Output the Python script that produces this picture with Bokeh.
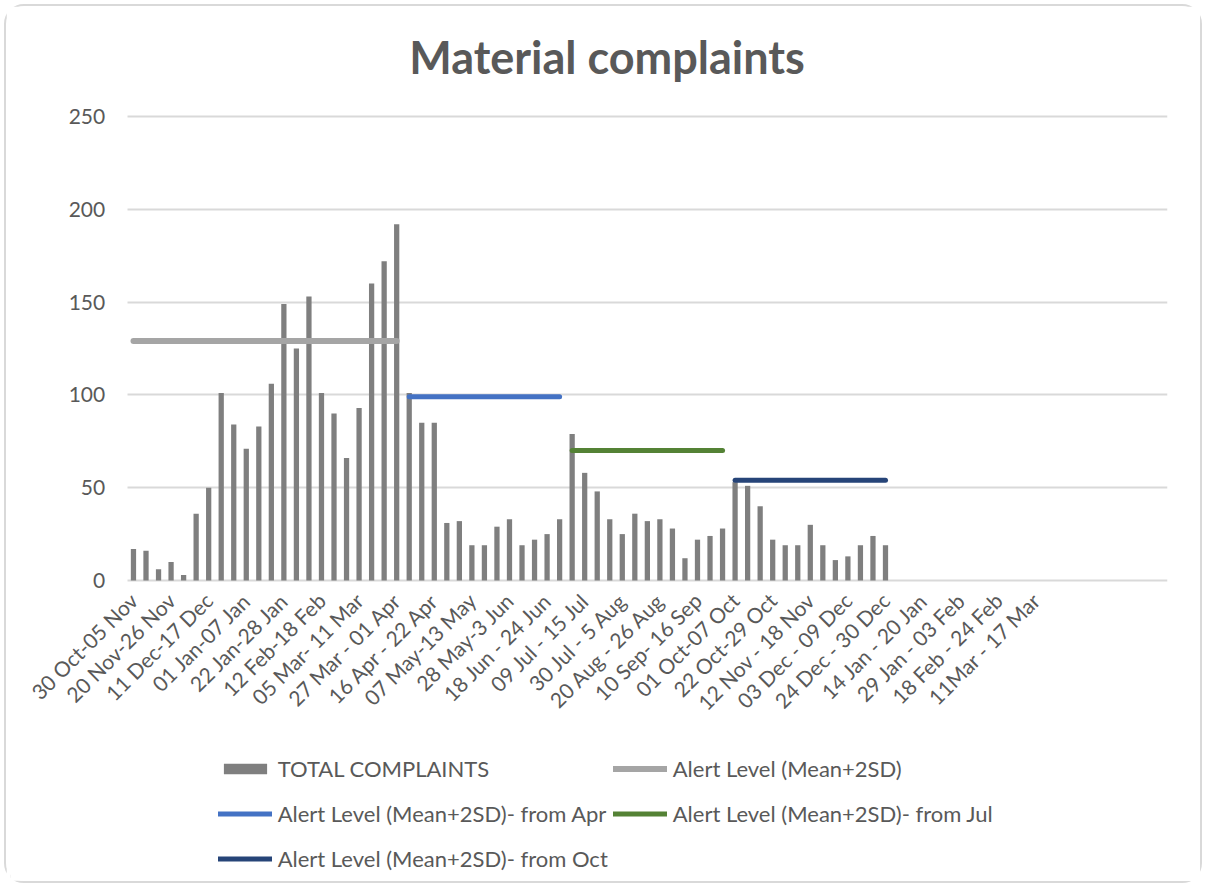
from bokeh.plotting import figure
from bokeh.models import FixedTicker, Legend, LegendItem, Range1d
from bokeh.embed import file_html
from bokeh.resources import INLINE
import math

# ---- data ----
complaints = [17, 16, 6, 10, 3, 36, 50, 101, 84, 71, 83, 106, 149, 125, 153, 101, 90, 66, 93, 160, 172, 192,
              101, 85, 85, 31, 32, 19, 19, 29, 33, 19, 22, 25, 33,
              79, 58, 48, 33, 25, 36, 32, 33, 28, 12, 22, 24, 28,
              53, 51, 40, 22, 19, 19, 30, 19, 11, 13, 19, 24, 19]
n_categories = 83
tick_labels = ["30 Oct-05 Nov", "20 Nov-26 Nov", "11 Dec-17 Dec", "01 Jan-07 Jan", "22 Jan-28 Jan",
               "12 Feb-18 Feb", "05 Mar- 11 Mar", "27 Mar - 01 Apr", "16 Apr - 22 Apr", "07 May-13 May",
               "28 May-3 Jun", "18 Jun - 24 Jun", "09 Jul - 15 Jul", "30 Jul - 5 Aug", "20 Aug - 26 Aug",
               "10 Sep- 16 Sep", "01 Oct-07 Oct", "22 Oct-29 Oct", "12 Nov - 18 Nov", "03 Dec - 09 Dec",
               "24 Dec - 30 Dec", "14 Jan - 20 Jan", "29 Jan - 03 Feb", "18 Feb - 24 Feb", "11Mar - 17 Mar"]
tick_step = 3
y_ticks = [0, 50, 100, 150, 200, 250]
y_max = 250

alert_names = ["Alert Level (Mean+2SD)", "Alert Level (Mean+2SD)- from Apr",
               "Alert Level (Mean+2SD)- from Jul", "Alert Level (Mean+2SD)- from Oct"]
alert_values = [129, 99, 70, 54]
alert_start = [0, 22, 35, 48]
alert_end = [21, 34, 47, 60]
alert_colors = ["#a5a5a5", "#4472c4", "#548235", "#264478"]
alert_widths = [6, 5, 5, 5]

TXT = "#595959"
FONT = "Lato"

# layout: the plot frame extends beyond the value area on the left, top and bottom so that
# the axis labels and the legend sit inside it (the axes are pinned at x=-0.5 and y=0)
W, H = 1198, 879
TOP, BOTTOM, LEFT, RIGHT = 80, 5, 4, 37
axis_top_px = 110                # canvas y of the 250 gridline
axis_height_px = 464             # 0..250 span in pixels
y_px_per_unit = axis_height_px / float(y_max)
y_high = y_max + (axis_top_px - TOP) / y_px_per_unit
y_low = y_high - (H - TOP - BOTTOM) / y_px_per_unit
x_px_per_cat = 12.533
x_axis_left_px = 116.7          # gap between frame left and the first category edge
x_low = -0.5 - x_axis_left_px / x_px_per_cat
x_high = n_categories - 0.5

p = figure(width=W, height=H, output_backend="svg", toolbar_location=None,
           x_range=Range1d(x_low, x_high), y_range=Range1d(y_low, y_high),
           min_border_left=LEFT, min_border_right=RIGHT, min_border_top=TOP, min_border_bottom=BOTTOM,
           styles={"border": "2px solid #d9d9d9", "border-radius": "20px",
                   "margin-left": "4px", "margin-top": "4px"})
p.outline_line_color = None

x_idx = list(range(len(complaints)))
bars = p.vbar(x=x_idx, top=complaints, width=0.42, fill_color="#7f7f7f", line_color=None)

line_renderers = []
for name, v, s, e, c, w in zip(alert_names, alert_values, alert_start, alert_end, alert_colors, alert_widths):
    r = p.line(x=[s, e], y=[v, v], line_color=c, line_width=w, line_cap="round")
    line_renderers.append(r)

# title
p.title.text = "Material complaints"
p.title.align = "left"
p.title.text_font = FONT
p.title.text_font_style = "bold"
p.title.text_font_size = "45px"
p.title.text_color = TXT
p.title.offset = 282 + x_axis_left_px
p.title.standoff = 6

# axes
p.yaxis.fixed_location = -0.5
p.yaxis.ticker = FixedTicker(ticks=y_ticks)
p.yaxis.axis_line_color = None
p.yaxis.major_tick_line_color = None
p.yaxis.minor_tick_line_color = None
p.yaxis.major_tick_out = 0
p.yaxis.major_label_standoff = 22
p.yaxis.major_label_text_font = FONT
p.yaxis.major_label_text_font_size = "21px"
p.yaxis.major_label_text_color = TXT

tick_pos = [i * tick_step for i in range(len(tick_labels))]
p.xaxis.fixed_location = 0
p.xaxis.ticker = FixedTicker(ticks=tick_pos)
p.xaxis.major_label_overrides = {t: lab for t, lab in zip(tick_pos, tick_labels)}
p.xaxis.major_label_orientation = math.pi / 4
p.xaxis.axis_line_color = None
p.xaxis.major_tick_line_color = None
p.xaxis.minor_tick_line_color = None
p.xaxis.major_tick_out = 0
p.xaxis.major_label_standoff = 16
p.xaxis.major_label_text_font = FONT
p.xaxis.major_label_text_font_size = "21px"
p.xaxis.major_label_text_color = TXT

p.xgrid.grid_line_color = None
p.ygrid.grid_line_color = "#d9d9d9"
p.ygrid.grid_line_width = 2
p.ygrid.ticker = FixedTicker(ticks=y_ticks)
p.ygrid.cross_bounds = (-0.5, x_high)

items = [LegendItem(label="TOTAL COMPLAINTS", renderers=[bars])]
for name, r in zip(alert_names, line_renderers):
    items.append(LegendItem(label=name, renderers=[r]))

legend = Legend(items=items, location=(91 + x_axis_left_px, 2), orientation="horizontal", ncols=2,
                glyph_width=54, glyph_height=13, label_standoff=6, spacing=5, label_height=40,
                padding=0, margin=0, border_line_color=None, background_fill_alpha=0,
                label_text_font=FONT, label_text_font_size="22px", label_text_color=TXT)
p.add_layout(legend, "center")

open("out.html", "w").write(file_html(p, INLINE))
